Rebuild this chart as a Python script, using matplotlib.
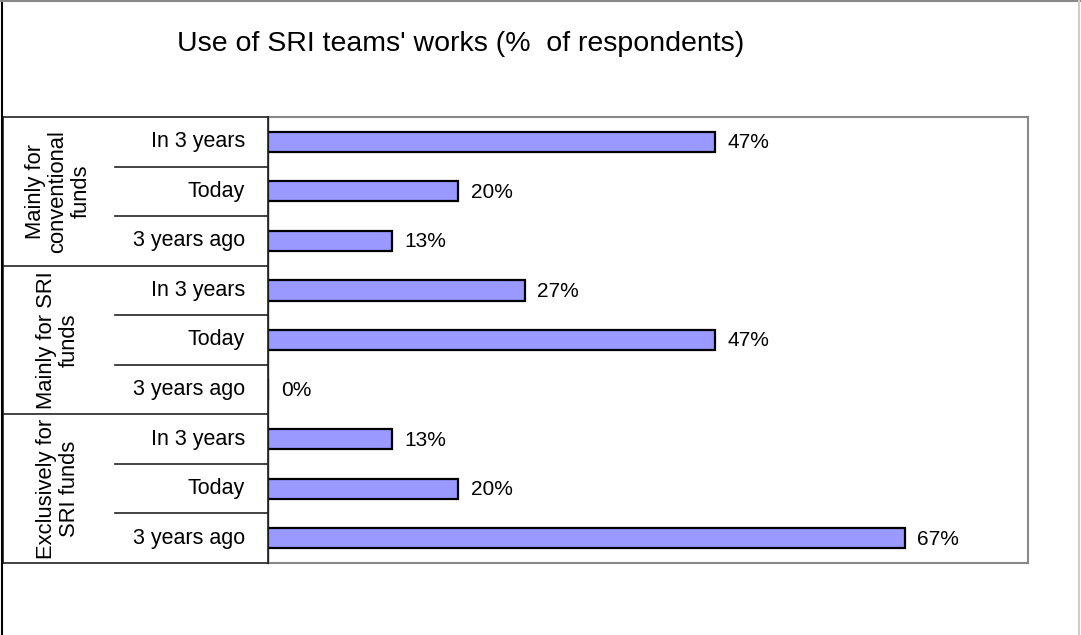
import matplotlib
matplotlib.use("Agg")
import matplotlib.pyplot as plt
from matplotlib.lines import Line2D

plt.rcParams['font.family'] = ['Liberation Sans', 'DejaVu Sans']

title = "Use of SRI teams' works (%  of respondents)"
groups = ["Mainly for\nconventional\nfunds", "Mainly for SRI\nfunds", "Exclusively for\nSRI funds"]
periods = ["In 3 years", "Today", "3 years ago"]
conventional = [47, 20, 13]
mainly_sri = [27, 47, 0]
exclusively_sri = [13, 20, 67]
series = [conventional, mainly_sri, exclusively_sri]

W, H = 1081, 635
fig = plt.figure(figsize=(W / 100, H / 100), dpi=100)

px_left, px_right, px_top, px_bottom = 268, 1028, 117, 563
tbl_left = 3

def fx(p):
    return p / W

def fy(p):
    return 1 - p / H

ax = fig.add_axes([fx(px_left), fy(px_bottom), fx(px_right - px_left), (px_bottom - px_top) / H])
n = len(groups) * len(periods)
values = [v for s in series for v in s]
ypos = list(range(n))
ax.barh(ypos, values, height=0.41, color='#9999FF', edgecolor='black', linewidth=1.6, zorder=3)
ax.set_xlim(0, 80)
ax.set_ylim(n - 0.5, -0.5)
ax.set_xticks([])
ax.set_yticks([])
for sp in ax.spines.values():
    sp.set_color('#888888')
    sp.set_linewidth(1.5)
ax.spines['left'].set_color('#333333')
ax.spines['left'].set_linewidth(1.0)
for y, v in zip(ypos, values):
    ax.annotate(f"{v}%", (v, y), xytext=(13, -1), textcoords='offset pixels',
                va='center', ha='left', fontsize=15, color='black')

# category table
tax = fig.add_axes([fx(tbl_left), fy(px_bottom), fx(px_left - tbl_left), (px_bottom - px_top) / H])
tax.set_xlim(tbl_left, px_left)
tax.set_ylim(n - 0.5, -0.5)
tax.axis('off')
lc = '#222222'
tax.plot([tbl_left, px_left], [-0.5, -0.5], color=lc, lw=1.2, clip_on=False)
tax.plot([tbl_left, px_left], [n - 0.5, n - 0.5], color=lc, lw=1.2, clip_on=False)
tax.plot([tbl_left + 0.5, tbl_left + 0.5], [-0.5, n - 0.5], color=lc, lw=1.2, clip_on=False)
tax.plot([px_left, px_left], [-0.5, n - 0.5], color=lc, lw=1.2, clip_on=False)
for gi, g in enumerate(groups):
    base = gi * len(periods)
    if gi > 0:
        tax.plot([tbl_left, px_left], [base - 0.5, base - 0.5], color=lc, lw=1.2)
    for pi in range(1, len(periods)):
        tax.plot([115, px_left], [base + pi - 0.5, base + pi - 0.5], color=lc, lw=1.2)
    for pi, p in enumerate(periods):
        tax.text(245, base + pi, p, ha='right', va='center', fontsize=15.5)
    tax.text(58, base + 1, g, ha='center', va='center', rotation=90, fontsize=15.8,
             linespacing=1.12, multialignment='center')

fig.text(fx(461), fy(44), title, ha='center', va='center', fontsize=20.5)

# figure border
fig.add_artist(Line2D([fx(1.5), fx(1.5)], [0, 1], color='black', lw=1.5))
fig.add_artist(Line2D([0, 1], [fy(1), fy(1)], color='#888888', lw=1.5))
fig.add_artist(Line2D([fx(1079), fx(1079)], [0, 1], color='#cccccc', lw=1.5))

fig.savefig('out.png', dpi=100)
